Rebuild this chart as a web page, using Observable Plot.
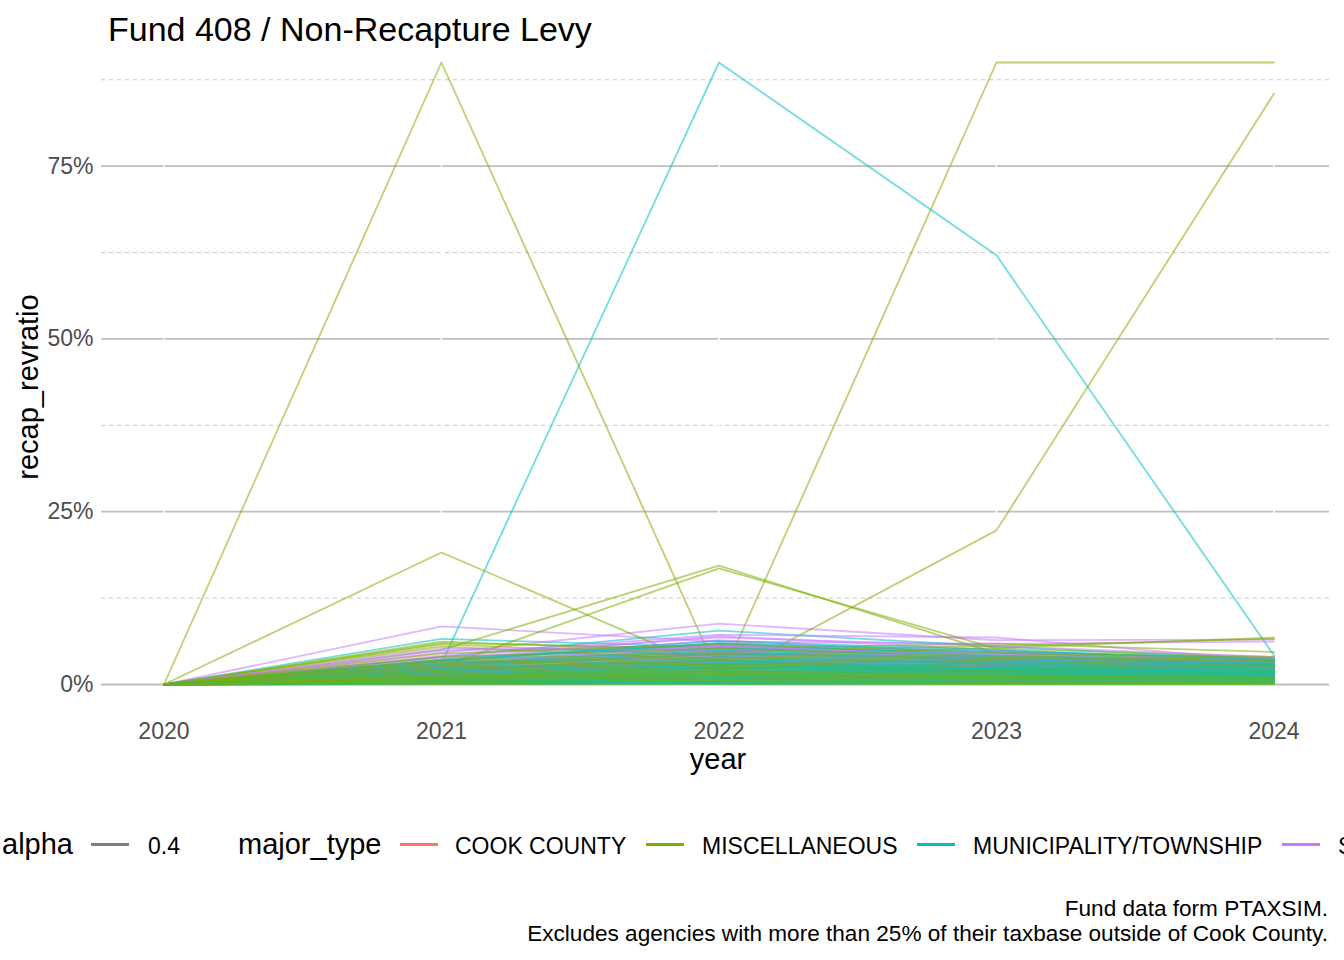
<!DOCTYPE html>
<html>
<head>
<meta charset="utf-8">
<script src="https://cdn.jsdelivr.net/npm/d3@7"></script>
<script src="https://cdn.jsdelivr.net/npm/@observablehq/plot@0.6"></script>
<style>
  html, body { margin: 0; padding: 0; background: #fff; }
  #page { position: relative; width: 1344px; height: 960px; overflow: hidden; background: #fff;
          font-family: "Liberation Sans", Arial, sans-serif; color: #000; }
  .abs { position: absolute; white-space: nowrap; }
  #title { left: 108px; top: 12px; font-size: 34px; line-height: 34px; }
  #chart { position: absolute; left: 0; top: 50px; }
  #xtitle { left: 718px; top: 745px; font-size: 29px; line-height: 29px; transform: translateX(-50%); }
  #ytitle { left: 28px; top: 387px; font-size: 29px; line-height: 29px; transform: translate(-50%, -50%) rotate(-90deg); }
  .lgTitle { font-size: 29px; line-height: 29px; top: 830px; }
  .lgText { font-size: 23px; line-height: 23px; top: 835px; }
  .lgKey { height: 3px; width: 38px; top: 843px; }
  #caption { right: 16px; top: 896px; font-size: 22.6px; line-height: 25px; text-align: right; }
</style>
</head>
<body>
<div id="page">
  <div id="title" class="abs">Fund 408 / Non-Recapture Levy</div>
  <div id="chart"></div>
  <div id="xtitle" class="abs">year</div>
  <div id="ytitle" class="abs">recap_revratio</div>
  <div id="legend"></div>
  <div id="caption" class="abs">Fund data form PTAXSIM.<br>Excludes agencies with more than 25% of their taxbase outside of Cook County.</div>
</div>
<script>
// ---- data (recap_revratio in percent, years 2020..2024) ----
const years = [2020, 2021, 2022, 2023, 2024];
const majorTypes = ["COOK COUNTY", "MISCELLANEOUS", "MUNICIPALITY/TOWNSHIP", "SCHOOL"];
const majorBreaks = [0, 0.25, 0.5, 0.75];
const minorBreaks = [0.125, 0.375, 0.625, 0.875];

const cookCounty = [
  [0, 2.0, 3.5, 3.0, 3.4],
  [0, 1.2, 2.4, 2.1, 2.6],
  [0, 0.6, 1.1, 1.2, 1.0],
  [0, 2.6, 4.5, 3.8, 3.6],
  [0, 1.6, 3.0, 2.7, 3.0]
];
const miscellaneous = [
  [0, 90, 1.3, 1.0, 1.2],
  [0, 0.5, 0.2, 90, 90],
  [0, 1.5, 0.9, 22.3, 85.5],
  [0, 19.1, 1.9, 1.5, 1.4],
  [0, 5.0, 17.2, 4.5, 3.6],
  [0, 2.6, 16.8, 5.2, 4.0],
  [0, 6.2, 4.8, 5.6, 6.6],
  [0, 6.0, 5.2, 5.9, 4.7],
  [0, 5.8, 4.2, 5.3, 6.8],
  [0, 5.5, 3.5, 3.2, 3.0],
  [0, 3.0, 4.0, 3.3, 3.2],
  [0, 2.4, 3.2, 2.6, 2.8],
  [0, 2.0, 2.8, 2.2, 2.4],
  [0, 1.8, 2.5, 1.9, 2.1],
  [0, 1.5, 2.2, 1.6, 1.8],
  [0, 1.3, 1.9, 1.4, 1.5],
  [0, 1.1, 1.6, 1.2, 1.3],
  [0, 1.0, 1.4, 1.0, 1.1],
  [0, 0.9, 1.2, 0.9, 1.0],
  [0, 0.8, 1.0, 0.8, 0.9],
  [0, 0.7, 0.9, 0.7, 0.8],
  [0, 0.6, 0.8, 0.6, 0.7],
  [0, 0.5, 0.7, 0.5, 0.6],
  [0, 0.4, 0.6, 0.45, 0.5],
  [0, 0.35, 0.5, 0.4, 0.45],
  [0, 0.3, 0.4, 0.3, 0.35],
  [0, 0.2, 0.3, 0.25, 0.3],
  [0, 0.15, 0.2, 0.15, 0.2],
  [0, 0.1, 0.15, 0.1, 0.1],
  [0, 0.05, 0.1, 0.05, 0.05],
  [0, 3.4, 2.9, 2.0, 1.7],
  [0, 2.2, 3.6, 1.8, 2.9],
  [0, 4.5, 5.8, 4.6, 3.9],
  [0, 4.0, 5.2, 4.1, 3.5],
  [0, 3.6, 4.6, 3.8, 3.3],
  [0, 3.2, 4.3, 3.4, 2.7],
  [0, 2.8, 3.9, 3.0, 2.5],
  [0, 2.5, 3.4, 2.7, 2.3],
  [0, 2.1, 3.0, 2.4, 2.0],
  [0, 1.7, 2.6, 2.0, 1.7],
  [0, 1.4, 2.3, 1.7, 1.5],
  [0, 1.2, 2.0, 1.5, 1.3],
  [0, 1.0, 1.8, 1.3, 1.2],
  [0, 0.9, 1.5, 1.1, 1.0],
  [0, 0.7, 1.3, 0.9, 0.8],
  [0, 0.5, 1.0, 0.7, 0.7],
  [0, 0.3, 0.6, 0.4, 0.4]
];
const municipality = [
  [0, 3.0, 90, 62.1, 4.2],
  [0, 6.6, 5.4, 4.6, 3.4],
  [0, 4.0, 7.8, 5.5, 3.6],
  [0, 3.2, 5.6, 4.5, 3.3],
  [0, 3.0, 5.0, 3.9, 3.1],
  [0, 2.8, 4.7, 3.6, 3.0],
  [0, 2.6, 4.4, 3.4, 2.9],
  [0, 2.5, 4.2, 3.1, 2.7],
  [0, 2.3, 3.9, 2.9, 2.6],
  [0, 2.2, 3.7, 2.8, 2.5],
  [0, 2.0, 3.5, 2.6, 2.3],
  [0, 1.9, 3.3, 2.4, 2.2],
  [0, 1.8, 3.1, 2.3, 2.0],
  [0, 1.7, 2.9, 2.1, 1.9],
  [0, 1.5, 2.7, 2.0, 1.8],
  [0, 1.4, 2.5, 1.8, 1.7],
  [0, 1.3, 2.3, 1.7, 1.5],
  [0, 1.2, 2.1, 1.5, 1.4],
  [0, 1.1, 1.9, 1.4, 1.3],
  [0, 1.0, 1.7, 1.2, 1.2],
  [0, 0.9, 1.5, 1.1, 1.0],
  [0, 0.8, 1.3, 1.0, 0.9],
  [0, 0.7, 1.1, 0.8, 0.8],
  [0, 0.6, 0.9, 0.7, 0.6],
  [0, 0.4, 0.7, 0.5, 0.5],
  [0, 0.3, 0.5, 0.4, 0.4],
  [0, 0.2, 0.3, 0.2, 0.3],
  [0, 0.1, 0.2, 0.1, 0.1],
  [0, 0.05, 0.05, 0.05, 0.05],
  [0, 3.5, 6.0, 4.8, 3.8],
  [0, 3.6, 6.3, 5.0, 3.5],
  [0, 3.4, 5.9, 4.2, 3.2],
  [0, 2.9, 5.3, 4.0, 3.0],
  [0, 2.7, 4.9, 3.7, 2.9],
  [0, 2.4, 4.5, 3.5, 2.8],
  [0, 2.1, 4.0, 3.2, 2.6],
  [0, 1.9, 3.6, 3.0, 2.4],
  [0, 1.6, 3.2, 2.7, 2.2],
  [0, 1.4, 2.8, 2.4, 2.0],
  [0, 1.2, 2.4, 2.2, 1.8],
  [0, 1.0, 2.0, 1.9, 1.6],
  [0, 0.8, 1.6, 1.6, 1.4],
  [0, 0.6, 1.2, 1.3, 1.2],
  [0, 0.4, 0.8, 0.9, 0.9],
  [0, 0.2, 0.4, 0.5, 0.6]
];
const school = [
  [0, 8.4, 6.2, 5.9, 6.2],
  [0, 4.6, 8.8, 6.4, 6.5],
  [0, 4.2, 7.2, 6.8, 3.4],
  [0, 3.6, 7.0, 5.0, 3.2],
  [0, 3.3, 6.4, 4.4, 3.0],
  [0, 3.0, 5.8, 4.0, 2.8],
  [0, 2.7, 5.3, 3.6, 2.7],
  [0, 2.4, 4.8, 3.3, 2.5],
  [0, 2.1, 4.4, 3.0, 2.3],
  [0, 1.9, 4.0, 2.7, 2.1],
  [0, 1.6, 3.5, 2.4, 1.9],
  [0, 1.3, 3.0, 2.1, 1.7],
  [0, 1.0, 2.5, 1.8, 1.5],
  [0, 0.8, 2.0, 1.5, 1.2],
  [0, 0.5, 1.5, 1.1, 0.9],
  [0, 3.9, 5.5, 3.8, 2.6],
  [0, 4.0, 6.8, 5.6, 4.0],
  [0, 3.4, 6.0, 4.8, 3.6],
  [0, 2.9, 5.6, 4.2, 3.3],
  [0, 2.5, 5.1, 3.9, 3.1],
  [0, 2.2, 4.6, 3.5, 2.9],
  [0, 1.8, 4.2, 3.2, 2.6],
  [0, 1.5, 3.8, 2.9, 2.4],
  [0, 1.2, 3.3, 2.6, 2.2],
  [0, 5.2, 4.9, 4.6, 3.8],
  [0, 4.9, 5.6, 4.2, 3.0]
];
const palette = ["#F8766D", "#7CAE00", "#00BFC4", "#C77CFF"];

// ---- build tidy table (interleave groups for mixed drawing order) ----
const groups = [cookCounty, miscellaneous, municipality, school];
const rows = [];
const maxLen = d3.max(groups, g => g.length);
for (let i = 0; i < maxLen; i++) {
  groups.forEach((g, gi) => {
    if (i < g.length) {
      const id = majorTypes[gi] + "-" + i;
      g[i].forEach((v, k) => rows.push({agency: id, major_type: majorTypes[gi], year: years[k], ratio: v / 100}));
    }
  });
}

const chart = Plot.plot({
  width: 1344,
  height: 740,
  marginLeft: 101,
  marginRight: 15,
  marginTop: 12,
  marginBottom: 106,
  style: {fontFamily: "'Liberation Sans', Arial, sans-serif", background: "white", overflow: "visible"},
  x: {domain: [2019.775, 2024.2]},
  y: {domain: [0, 0.9]},
  color: {domain: majorTypes, range: palette},
  marks: [
    Plot.ruleY(minorBreaks, {stroke: "#C6C6C6", strokeWidth: 1, strokeDasharray: "4,4"}),
    Plot.ruleY(majorBreaks, {stroke: "#BEBEBE", strokeWidth: 1.8}),
    Plot.ruleX(years, {stroke: "white", strokeWidth: 1.5}),
    Plot.line(rows, {x: "year", y: "ratio", z: "agency", stroke: "major_type", strokeOpacity: 0.55, strokeWidth: 1.8}),
    Plot.axisX({ticks: years, tickFormat: d => String(d), tickSize: 0, tickPadding: 38, fontSize: 23, fill: "#4D4D4D", label: null}),
    Plot.axisY({ticks: majorBreaks, tickFormat: d3.format(".0%"), tickSize: 0, tickPadding: 8, fontSize: 23, fill: "#4D4D4D", label: null})
  ]
});
document.getElementById("chart").appendChild(chart);

// ---- legend (bottom, overflowing like the reference) ----
const legend = document.getElementById("legend");
function addText(txt, left, cls) {
  const s = document.createElement("div");
  s.className = "abs " + cls;
  s.style.left = left + "px";
  s.textContent = txt;
  legend.appendChild(s);
}
function addKey(color, left) {
  const k = document.createElement("div");
  k.className = "abs lgKey";
  k.style.left = left + "px";
  k.style.background = color;
  legend.appendChild(k);
}
addText("alpha", 2, "lgTitle");
addKey("#7F7F7F", 91);
addText("0.4", 148, "lgText");
addText("major_type", 238, "lgTitle");
const keyLefts = [400, 646, 917, 1282];
const textLefts = [455, 702, 973, 1338];
majorTypes.forEach((t, i) => {
  addKey(palette[i], keyLefts[i]);
  addText(t, textLefts[i], "lgText");
});
</script>
</body>
</html>
